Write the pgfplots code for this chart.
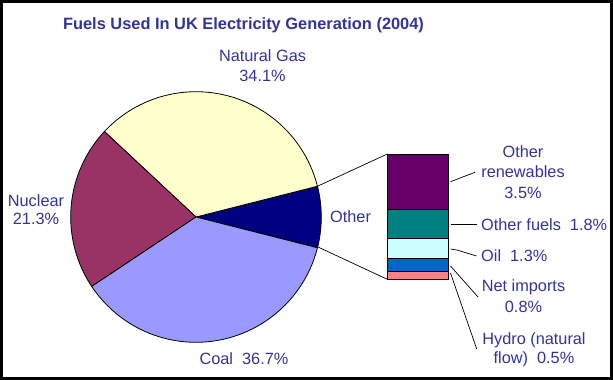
\documentclass[border=0pt]{standalone}
\usepackage{pgfplots}
\pgfplotsset{compat=1.18}
\usepackage{fontspec}
\setmainfont{Liberation Sans}
\definecolor{lab}{HTML}{333399}
\definecolor{gas}{HTML}{FFFFCC}
\definecolor{nuc}{HTML}{993366}
\definecolor{coal}{HTML}{9999FF}
\definecolor{oth}{HTML}{000080}
\definecolor{ren}{HTML}{660066}
\definecolor{ofu}{HTML}{008080}
\definecolor{oil}{HTML}{CCFFFF}
\definecolor{imp}{HTML}{0066CC}
\definecolor{hyd}{HTML}{FF8080}
\newcommand{\lf}{\fontsize{16.3bp}{19bp}\selectfont\color{lab}}
\begin{document}
\begin{tikzpicture}
\begin{axis}[scale only axis, width=613bp, height=380bp,
  xmin=0, xmax=613, ymin=0, ymax=380, y dir=reverse,
  hide axis, clip=false]
% Pie: Other 7.9, Natural Gas 34.1, Nuclear 21.3, Coal 36.7 (percent)
\addplot[fill=oth, draw=black, line width=0.8bp, domain={-7.9*1.8}:{7.9*1.8}, samples=30]
  ({196+125.3*cos(x)}, {217-125.3*sin(x)}) -- (axis cs:196,217) -- cycle;
\addplot[fill=gas, draw=black, line width=0.8bp, domain={7.9*1.8}:{7.9*1.8+34.1*3.6}, samples=80]
  ({196+125.3*cos(x)}, {217-125.3*sin(x)}) -- (axis cs:196,217) -- cycle;
\addplot[fill=nuc, draw=black, line width=0.8bp, domain={7.9*1.8+34.1*3.6}:{7.9*1.8+55.4*3.6}, samples=60]
  ({196+125.3*cos(x)}, {217-125.3*sin(x)}) -- (axis cs:196,217) -- cycle;
\addplot[fill=coal, draw=black, line width=0.8bp, domain={7.9*1.8+55.4*3.6}:{7.9*1.8+92.1*3.6}, samples=80]
  ({196+125.3*cos(x)}, {217-125.3*sin(x)}) -- (axis cs:196,217) -- cycle;
% connector lines
\addplot[black, line width=0.7bp] coordinates {(318,186) (387.3,154)};
\addplot[black, line width=0.7bp] coordinates {(318,247) (387.3,279.3)};
% leader lines
\addplot[black, line width=0.7bp] coordinates {(450.5,181.7) (475,172.3)};
\addplot[black, line width=0.7bp] coordinates {(450.5,224.3) (476.7,224.3)};
\addplot[black, line width=0.7bp] coordinates {(450.5,249) (457,250) (476.5,256)};
\addplot[black, line width=0.7bp] coordinates {(450.5,266) (478,297)};
\addplot[black, line width=0.7bp] coordinates {(450.5,273) (476.7,349)};
\coordinate (barNW) at (axis cs:387.3,154);
% title
\node[anchor=base, font=\fontsize{16.4bp}{19bp}\selectfont\bfseries, text=lab, inner sep=0pt]
  at (axis cs:243.5,29) {Fuels Used In UK Electricity Generation (2004)};
% pie labels
\node[anchor=base, inner sep=0pt] at (axis cs:262.5,61.3) {\lf Natural Gas};
\node[anchor=base, inner sep=0pt] at (axis cs:262.5,81.8) {\lf 34.1\%};
\node[anchor=base, inner sep=0pt] at (axis cs:36,206.8) {\lf Nuclear};
\node[anchor=base, inner sep=0pt] at (axis cs:36,224.8) {\lf 21.3\%};
\node[anchor=base, inner sep=0pt] at (axis cs:244,364.8) {\lf Coal\ \ 36.7\%};
\node[anchor=base west, inner sep=0pt] at (axis cs:330,222.8) {\lf Other};
% bar labels
\node[anchor=base, inner sep=0pt] at (axis cs:523,157.8) {\lf Other};
\node[anchor=base, inner sep=0pt] at (axis cs:523,177.8) {\lf renewables};
\node[anchor=base, inner sep=0pt] at (axis cs:523,198.8) {\lf 3.5\%};
\node[anchor=base west, inner sep=0pt] at (axis cs:481,230.8) {\lf Other fuels\ \ 1.8\%};
\node[anchor=base west, inner sep=0pt] at (axis cs:481,261.8) {\lf Oil\ \ 1.3\%};
\node[anchor=base, inner sep=0pt] at (axis cs:523.5,291.8) {\lf Net imports};
\node[anchor=base, inner sep=0pt] at (axis cs:523.5,312.8) {\lf 0.8\%};
\node[anchor=base, inner sep=0pt] at (axis cs:534,344.8) {\lf Hydro (natural};
\node[anchor=base, inner sep=0pt] at (axis cs:534,363.8) {\lf flow)\ \ 0.5\%};
% frame
\draw[black, line width=3bp] (axis cs:1.5,1.5) rectangle (axis cs:611.5,378.5);
\end{axis}
\begin{axis}[at={(barNW)}, anchor=north west, scale only axis,
  width=61bp, height=125.3bp, ybar stacked, bar width=61bp,
  xmin=-0.5, xmax=0.5, ymin=0, ymax=7.9, hide axis, clip=false]
\addplot[fill=hyd, draw=black, line width=0.8bp] coordinates {(0,0.5)};
\addplot[fill=imp, draw=black, line width=0.8bp] coordinates {(0,0.8)};
\addplot[fill=oil, draw=black, line width=0.8bp] coordinates {(0,1.3)};
\addplot[fill=ofu, draw=black, line width=0.8bp] coordinates {(0,1.8)};
\addplot[fill=ren, draw=black, line width=0.8bp] coordinates {(0,3.5)};
\end{axis}
\end{tikzpicture}
\end{document}
